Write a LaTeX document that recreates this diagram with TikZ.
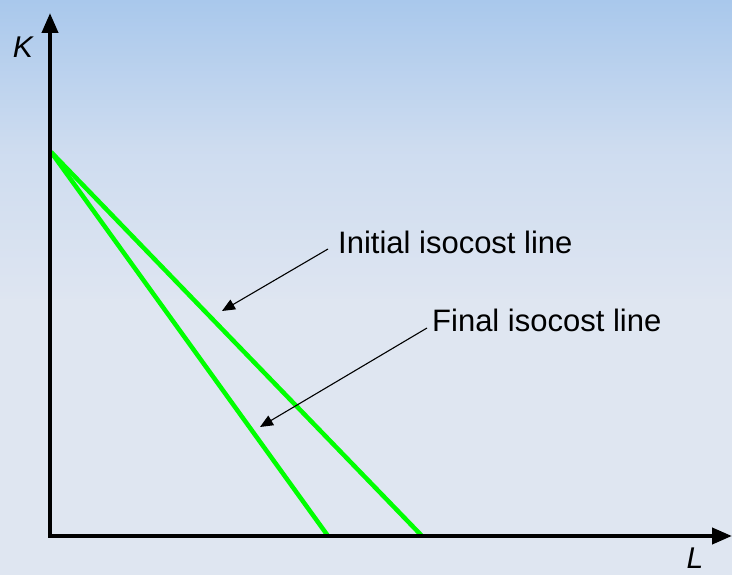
\documentclass[tikz,border=0pt]{standalone}
\usepackage{fontspec}
\setmainfont{Liberation Sans}
\usetikzlibrary{arrows.meta}
\definecolor{bgtop}{HTML}{A9C8EC}
\definecolor{bgmid}{HTML}{DEE5F1}
\definecolor{bgbot}{HTML}{DFE6F1}
\definecolor{iso}{HTML}{00FF00}
\tikzset{
  axis/.style={line width=4pt, -{Triangle[length=20pt,width=16pt]}},
  isoline/.style={iso, line width=4.5pt},
  pointer/.style={line width=1.1pt, -{Triangle[length=13pt,width=11pt]}},
  lbl/.style={font=\fontsize{31}{34}\selectfont, inner sep=0pt, anchor=base west},
  axlbl/.style={font=\fontsize{30}{33}\selectfont\itshape, inner sep=0pt}
}
\begin{document}
\begin{tikzpicture}[x=1pt,y=-1pt]
\useasboundingbox (0,0) rectangle (732,575);
\shade[top color=bgtop, bottom color=bgmid, middle color=bgmid!70!bgtop, shading angle=0] (0,0) rectangle (732,300);
\fill[bgbot] (0,299.5) rectangle (732,575);
\coordinate (O) at (50,536);
\coordinate (Ytop) at (50,13);
\coordinate (Xend) at (732,536);
\coordinate (Kint) at (51,152);
\coordinate (Lfin) at (328,536);
\coordinate (Lini) at (422,536);
\draw[isoline] (Kint) -- (Lfin);
\draw[isoline] (Kint) -- (Lini);
\draw[axis] ([yshift=2pt]O) -- (Ytop);
\draw[axis] ([xshift=-2pt]O) -- (Xend);
\node[axlbl] (K) at (23,47) {K};
\node[axlbl] (L) at (695,558) {L};
\node[lbl] (t1) at (338,254) {Initial isocost line};
\node[lbl] (t2) at (432,331) {Final isocost line};
\coordinate (s1) at (328,249);
\coordinate (p1) at (222,311);
\coordinate (s2) at (427,328);
\coordinate (p2) at (260,427);
\draw[pointer] (s1) -- (p1);
\draw[pointer] (s2) -- (p2);
\end{tikzpicture}
\end{document}
